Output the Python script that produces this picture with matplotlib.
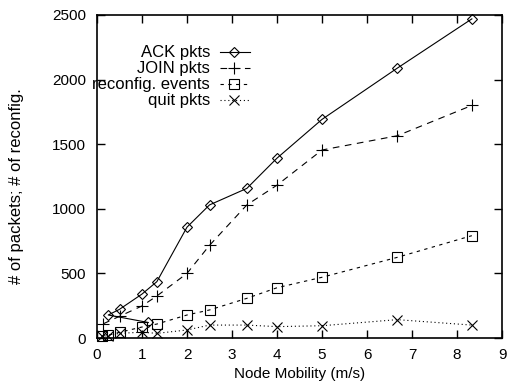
import matplotlib
matplotlib.use("Agg")
import matplotlib.pyplot as plt
from matplotlib.lines import Line2D

plt.rcParams['font.family'] = ['Liberation Sans', 'DejaVu Sans']

# data
ack_x = [1.14, 0.25, 0.5, 1.0, 1.33, 2.0, 2.5, 3.33, 4.0, 5.0, 6.67, 8.33]
ack_y = [120, 178, 222, 340, 436, 858, 1030, 1158, 1392, 1692, 2088, 2470]

join_x = [0.14, 0.5, 1.0, 1.33, 2.0, 2.5, 3.33, 4.0, 5.0, 6.67, 8.33]
join_y = [110, 168, 248, 325, 500, 717, 1030, 1183, 1455, 1565, 1800]

recfg_x = [0.1, 0.25, 0.5, 1.0, 1.33, 2.0, 2.5, 3.33, 4.0, 5.0, 6.67, 8.33]
recfg_y = [15, 22, 44, 85, 108, 178, 217, 307, 389, 470, 624, 792]

quit_x = [0.1, 0.25, 0.5, 1.0, 1.33, 2.0, 2.5, 3.33, 4.0, 5.0, 6.67, 8.33]
quit_y = [12, 18, 36, 45, 36, 62, 100, 100, 88, 95, 142, 100]

x_ticks = list(range(0, 10))
y_ticks = [0, 500, 1000, 1500, 2000, 2500]

labels = ['ACK pkts', 'JOIN pkts', 'reconfig. events', 'quit pkts']

W, H = 509, 388
fig = plt.figure(figsize=(W / 100, H / 100), dpi=100)
ax = fig.add_axes([97 / W, 1 - 338 / H, (502 - 97) / W, (338 - 15) / H])

lw = 0.8
styles = [
    dict(color='black', lw=lw, ls='-', marker='D', ms=5.5, mfc='none', mew=0.8),
    dict(color='black', lw=lw, ls=(0, (6, 5)), marker='+', ms=8, mew=0.8),
    dict(color='black', lw=lw, ls=(0, (3, 4)), marker='s', ms=7, mfc='none', mew=0.8),
    dict(color='black', lw=lw, ls=(0, (1, 2.5)), marker='x', ms=6.5, mew=0.8),
]
series = [(ack_x, ack_y), (join_x, join_y), (recfg_x, recfg_y), (quit_x, quit_y)]

for (xs, ys), st in zip(series, styles):
    ax.plot(xs, ys, clip_on=False, **st)

ax.set_xlim(0, 9)
ax.set_ylim(0, 2500)
ax.set_xticks(x_ticks)
ax.set_yticks(y_ticks)
ax.tick_params(direction='in', length=6, width=1, top=True, right=True,
               labelsize=11, colors='black')
ax.tick_params(axis='y', pad=8)
ax.tick_params(axis='x', pad=7)
for sp in ax.spines.values():
    sp.set_linewidth(1.2)

ax.set_xlabel('Node Mobility (m/s)', fontsize=11, labelpad=3.5)
fig.text(17 / W, 1 - 186 / H, '# of packets; # of reconfig.', rotation=90,
         ha='center', va='center', fontsize=12)

# gnuplot style key: right aligned text, sample to the right
rows = [52, 68, 84, 100]
for lab, st, yy in zip(labels, styles, rows):
    fy = 1 - yy / H
    fig.text(210 / W, fy, lab, ha='right', va='center', fontsize=12)
    line_st = {k: v for k, v in st.items() if k not in ('marker', 'ms', 'mfc', 'mew')}
    fig.add_artist(Line2D([220 / W, 250 / W], [fy, fy], transform=fig.transFigure,
                          **line_st))
    fig.add_artist(Line2D([234 / W], [fy], transform=fig.transFigure, ls='none',
                          color='black', marker=st['marker'], ms=st['ms'],
                          mfc=st.get('mfc', 'black'), mew=st['mew']))

fig.savefig('out.png', dpi=100)
